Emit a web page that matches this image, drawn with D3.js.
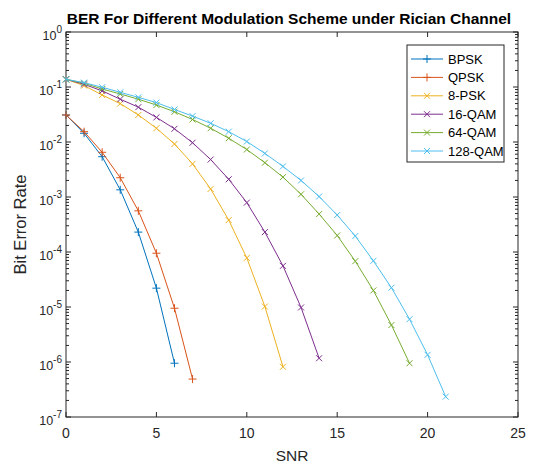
<!DOCTYPE html>
<html>
<head>
<meta charset="utf-8">
<script src="https://cdn.jsdelivr.net/npm/d3@7"></script>
<style>
  body { margin: 0; background: #fff; }
  text { font-family: "Liberation Sans", Arial, sans-serif; }
</style>
</head>
<body>
<div id="chart"></div>
<script>
let width = 534,
    height = 464,
    margin = ({ top: 32, right: 16, bottom: 47, left: 66 });

// BER, SNR = 0,1,2,...
const bpsk   = [0.031, 0.0144, 5.4e-3, 1.35e-3, 2.3e-4, 2.2e-5, 9.5e-7];
const qpsk   = [0.031, 0.0154, 6.5e-3, 2.24e-3, 5.6e-4, 9.5e-5, 9.5e-6, 4.9e-7];
const psk8   = [0.138, 0.106, 0.0716, 0.050, 0.031, 0.0178, 9.2e-3, 4.0e-3, 1.4e-3, 3.8e-4, 7.8e-5, 1.02e-5, 8.2e-7];
const qam16  = [0.138, 0.112, 0.085, 0.060, 0.043, 0.028, 0.0174, 9.7e-3, 4.8e-3, 2.1e-3, 7.9e-4, 2.3e-4, 5.6e-5, 9.8e-6, 1.17e-6];
const qam64  = [0.138, 0.117, 0.092, 0.0746, 0.060, 0.047, 0.0355, 0.0257, 0.0178, 0.0117, 7.3e-3, 4.2e-3, 2.3e-3, 1.12e-3, 4.9e-4, 2.0e-4, 6.8e-5, 2.0e-5, 4.7e-6, 9.5e-7];
const qam128 = [0.138, 0.12, 0.099, 0.080, 0.065, 0.052, 0.039, 0.0296, 0.0219, 0.0154, 0.0102, 6.2e-3, 3.6e-3, 2.0e-3, 1.02e-3, 4.7e-4, 1.95e-4, 6.9e-5, 2.24e-5, 6.0e-6, 1.35e-6, 2.34e-7];

const names   = ["BPSK", "QPSK", "8-PSK", "16-QAM", "64-QAM", "128-QAM"];
const colors  = ["#0072BD", "#D95319", "#EDB120", "#7E2F8E", "#77AC30", "#4DBEEE"];
const markers = ["plus", "plus", "cross", "cross", "cross", "cross"];
const xTicks  = [0, 5, 10, 15, 20, 25];
const yExps   = [0, -1, -2, -3, -4, -5, -6, -7];

const series = [bpsk, qpsk, psk8, qam16, qam64, qam128];

const svg = d3.select("#chart")
  .append("svg")
  .attr("width", width)
  .attr("height", height);

let x = d3.scaleLinear()
  .domain([0, 25])
  .range([margin.left, width - margin.right]);

let y = d3.scaleLog()
  .domain([1e-7, 1])
  .range([height - margin.bottom, margin.top]);

const x0 = x.range()[0], x1 = x.range()[1];
const y0 = y.range()[0], y1 = y.range()[1];

// ticks (inward, mirrored on top/right like matlab's box)
const tickG = svg.append("g").attr("stroke", "#262626").attr("stroke-width", 1);
for (let t of xTicks) {
  tickG.append("line").attr("x1", x(t)).attr("x2", x(t)).attr("y1", y0).attr("y2", y0 - 5);
  tickG.append("line").attr("x1", x(t)).attr("x2", x(t)).attr("y1", y1).attr("y2", y1 + 5);
}
for (let e of yExps) {
  let v = Math.pow(10, e);
  tickG.append("line").attr("x1", x0).attr("x2", x0 + 5).attr("y1", y(v)).attr("y2", y(v));
  tickG.append("line").attr("x1", x1).attr("x2", x1 - 5).attr("y1", y(v)).attr("y2", y(v));
  if (e > -7) {
    for (let m = 2; m < 10; m++) {
      let mv = v * m / 10;
      tickG.append("line").attr("x1", x0).attr("x2", x0 + 3).attr("y1", y(mv)).attr("y2", y(mv));
      tickG.append("line").attr("x1", x1).attr("x2", x1 - 3).attr("y1", y(mv)).attr("y2", y(mv));
    }
  }
}

svg.append("rect")
  .attr("x", x0).attr("y", y1)
  .attr("width", x1 - x0).attr("height", y0 - y1)
  .attr("fill", "none").attr("stroke", "#262626").attr("stroke-width", 1);

// tick labels
svg.append("g").selectAll("text")
  .data(xTicks)
  .join("text")
  .attr("x", d => x(d))
  .attr("y", y0 + 21)
  .attr("text-anchor", "middle")
  .attr("font-size", 14)
  .attr("fill", "#262626")
  .text(d => d);

let yl = svg.append("g").selectAll("text")
  .data(yExps)
  .join("text")
  .attr("x", x0 - 4)
  .attr("y", d => y(Math.pow(10, d)) + 8)
  .attr("text-anchor", "end")
  .attr("font-size", 12.5)
  .attr("fill", "#262626");
yl.append("tspan").text("10");
yl.append("tspan").attr("dy", -7).attr("font-size", 10).text(d => d);

// axis labels + title
svg.append("text")
  .attr("x", (x0 + x1) / 2)
  .attr("y", 461)
  .attr("text-anchor", "middle")
  .attr("font-size", 15.5)
  .attr("fill", "#262626")
  .text("SNR");

svg.append("text")
  .attr("transform", `translate(26,${(y0 + y1) / 2}) rotate(-90)`)
  .attr("text-anchor", "middle")
  .attr("font-size", 16.5)
  .attr("fill", "#262626")
  .text("Bit Error Rate");

svg.append("text")
  .attr("x", 289)
  .attr("y", 24)
  .attr("text-anchor", "middle")
  .attr("font-size", 15.5)
  .attr("font-weight", "bold")
  .attr("fill", "#000")
  .text("BER For Different Modulation Scheme under Rician Channel");

// lines and markers
let line = d3.line()
  .x((d, i) => x(i))
  .y(d => y(d));

function marker(g, type, cx, cy, color, s) {
  if (type === "plus") {
    g.append("path").attr("d", `M${cx - s},${cy}H${cx + s}M${cx},${cy - s}V${cy + s}`)
      .attr("stroke", color).attr("fill", "none");
  } else {
    let r = s * 0.75;
    g.append("path").attr("d", `M${cx - r},${cy - r}L${cx + r},${cy + r}M${cx - r},${cy + r}L${cx + r},${cy - r}`)
      .attr("stroke", color).attr("fill", "none");
  }
}

series.forEach((data, k) => {
  let g = svg.append("g");
  g.append("path")
    .datum(data)
    .attr("fill", "none")
    .attr("stroke", colors[k])
    .attr("stroke-width", 1)
    .attr("d", line);
  data.forEach((d, i) => marker(g, markers[k], x(i), y(d), colors[k], 4));
});

// legend
let lg = svg.append("g");
lg.append("rect")
  .attr("x", 407).attr("y", 45)
  .attr("width", 97).attr("height", 117)
  .attr("fill", "#fff").attr("stroke", "#262626").attr("stroke-width", 1);
names.forEach((n, k) => {
  let ly = 59 + k * 18.4;
  lg.append("line").attr("x1", 411).attr("x2", 443).attr("y1", ly).attr("y2", ly)
    .attr("stroke", colors[k]);
  marker(lg, markers[k], 427, ly, colors[k], 4);
  lg.append("text")
    .attr("x", 448).attr("y", ly + 4.5)
    .attr("font-size", 13)
    .attr("fill", "#000")
    .text(n);
});
</script>
</body>
</html>
